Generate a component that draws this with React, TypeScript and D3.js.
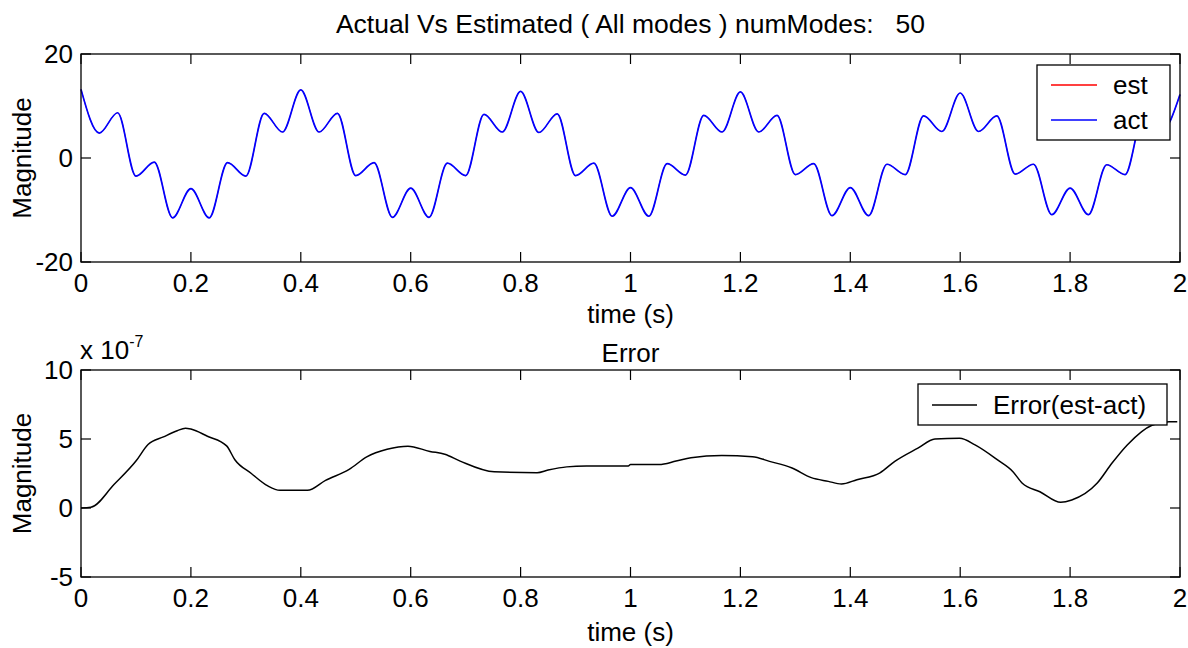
import React from 'react';
import * as d3 from 'd3';

// ---------- data ----------
const xTickValues = [0, 0.2, 0.4, 0.6, 0.8, 1, 1.2, 1.4, 1.6, 1.8, 2];
const topYTicks = [-20, 0, 20];
const bottomYTicks = [-5, 0, 5, 10];

const sampleStep = 1 / 30;
const actValues = [
  13.2, 4.8, 8.7, -3.5, -0.8, -11.5, -5.9, -11.5, -0.9, -3.5, 8.6, 5.0,
  13.1, 5.0, 8.6, -3.4, -0.9, -11.4, -5.8, -11.4, -1.0, -3.4, 8.4, 5.0,
  12.8, 4.9, 8.5, -3.4, -1.0, -11.2, -5.7, -11.2, -1.1, -3.3, 8.2, 5.0,
  12.7, 5.0, 8.2, -3.2, -1.1, -11.1, -5.7, -11.1, -1.2, -3.2, 8.1, 5.1,
  12.5, 5.1, 8.1, -3.1, -1.2, -10.9, -5.8, -10.9, -1.3, -3.2, 8.1, 5.2,
  12.2,
];
const estValues = actValues; // identical at plot scale

// error (x 1e-7)
const errTime = [
  0, 0.018, 0.06, 0.1, 0.122, 0.15, 0.175, 0.19, 0.2, 0.23, 0.265, 0.28, 0.31, 0.34,
  0.362, 0.412, 0.445, 0.488, 0.52, 0.557, 0.595, 0.635, 0.662, 0.69, 0.752, 0.83,
  0.85, 0.884, 0.92, 0.996, 1.0, 1.052, 1.083, 1.11, 1.166, 1.222, 1.253, 1.294,
  1.329, 1.36, 1.384, 1.412, 1.454, 1.481, 1.523, 1.554, 1.599, 1.627, 1.668, 1.696,
  1.713, 1.745, 1.783, 1.803, 1.849, 1.876, 1.904, 1.949, 1.98, 1.995,
];
const errValues = [
  0, 0.05, 1.7, 3.4, 4.6, 5.15, 5.6, 5.78, 5.72, 5.2, 4.5, 3.5, 2.5, 1.6,
  1.28, 1.28, 2.0, 2.8, 3.7, 4.25, 4.48, 4.1, 3.9, 3.4, 2.62, 2.56,
  2.75, 2.98, 3.04, 3.05, 3.15, 3.15, 3.4, 3.64, 3.8, 3.72, 3.38, 2.9,
  2.2, 1.93, 1.74, 2.05, 2.55, 3.38, 4.34, 5.0, 5.05, 4.57, 3.48, 2.63,
  1.79, 1.18, 0.41, 0.58, 1.79, 3.24, 4.57, 6.0, 6.25, 6.25,
];

const mainTitle = 'Actual Vs Estimated ( All modes ) numModes:   50';
const errTitle = 'Error';
const xLabel = 'time (s)';
const yLabel = 'Magnitude';
const legend1Labels = ['est', 'act'];
const legend2Label = 'Error(est-act)';

// ---------- layout ----------
const W = 1188;
const H = 648;
const LEFT = 81;
const RIGHT = 1180;
const TOP1 = 54, BOT1 = 262;
const TOP2 = 370, BOT2 = 577;
const FONT = "'Liberation Sans', Arial, Helvetica, sans-serif";
const FS = 26;
const TICK = 10;

const fmt = (v: number) => String(v);

function Axes({ x, y, yTicks, top, bottom }: any) {
  return (
    <g>
      <rect x={LEFT} y={top} width={RIGHT - LEFT} height={bottom - top} fill="#fff" stroke="none" />
      {xTickValues.map((t) => (
        <g key={'xt' + t}>
          <line x1={x(t)} x2={x(t)} y1={bottom} y2={bottom - TICK} stroke="#000" strokeWidth={1.2} />
          <line x1={x(t)} x2={x(t)} y1={top} y2={top + TICK} stroke="#000" strokeWidth={1.2} />
          <text x={x(t)} y={bottom + 30} textAnchor="middle" fontSize={FS} fontFamily={FONT} fill="#000">
            {fmt(t)}
          </text>
        </g>
      ))}
      {yTicks.map((v: number) => (
        <g key={'yt' + v}>
          <line x1={LEFT} x2={LEFT + TICK} y1={y(v)} y2={y(v)} stroke="#000" strokeWidth={1.2} />
          <line x1={RIGHT} x2={RIGHT - TICK} y1={y(v)} y2={y(v)} stroke="#000" strokeWidth={1.2} />
          <text x={LEFT - 8} y={y(v)} dy="0.35em" textAnchor="end" fontSize={FS} fontFamily={FONT} fill="#000">
            {fmt(v)}
          </text>
        </g>
      ))}
    </g>
  );
}

export default function App() {
  const x = d3.scaleLinear().domain([0, 2]).range([LEFT, RIGHT]);
  const y1 = d3.scaleLinear().domain([-20, 20]).range([BOT1, TOP1]);
  const y2 = d3.scaleLinear().domain([-5, 10]).range([BOT2, TOP2]);

  const sigLine = d3
    .line<number>()
    .x((_, i) => x(i * sampleStep))
    .y((v) => y1(v))
    .curve(d3.curveMonotoneX);

  const errLine = d3
    .line<number>()
    .x((_, i) => x(errTime[i]))
    .y((v) => y2(v))
    .curve(d3.curveMonotoneX);

  return (
    <svg width={W} height={H} style={{ position: 'absolute', left: 0, top: 0, background: '#fff' }}>
      <rect x={0} y={0} width={W} height={H} fill="#fff" />
      {/* top plot */}
      <Axes x={x} y={y1} yTicks={topYTicks} top={TOP1} bottom={BOT1} />
      <path d={sigLine(estValues) || ''} fill="none" stroke="#ff0000" strokeWidth={0.8} />
      <path d={sigLine(actValues) || ''} fill="none" stroke="#0000ff" strokeWidth={1.7} />
      <rect x={LEFT} y={TOP1} width={RIGHT - LEFT} height={BOT1 - TOP1} fill="none" stroke="#000" strokeWidth={1.3} />
      <text x={(LEFT + RIGHT) / 2} y={33} textAnchor="middle" fontSize={26.5} fontFamily={FONT} fill="#000" style={{ whiteSpace: 'pre' }}>
        {mainTitle}
      </text>
      <text x={(LEFT + RIGHT) / 2} y={323} textAnchor="middle" fontSize={FS} fontFamily={FONT} fill="#000">
        {xLabel}
      </text>
      <text transform={`translate(31,${(TOP1 + BOT1) / 2}) rotate(-90)`} textAnchor="middle" fontSize={FS} fontFamily={FONT} fill="#000">
        {yLabel}
      </text>
      {/* legend 1 */}
      <g>
        <rect x={1037} y={65} width={133} height={75} fill="#fff" stroke="#000" strokeWidth={1.3} />
        <line x1={1051} x2={1097} y1={85} y2={85} stroke="#ff0000" strokeWidth={1.5} />
        <line x1={1051} x2={1097} y1={120} y2={120} stroke="#0000ff" strokeWidth={1.5} />
        <text x={1113} y={85} dy="0.35em" fontSize={FS} fontFamily={FONT} fill="#000">{legend1Labels[0]}</text>
        <text x={1113} y={120} dy="0.35em" fontSize={FS} fontFamily={FONT} fill="#000">{legend1Labels[1]}</text>
      </g>

      {/* bottom plot */}
      <Axes x={x} y={y2} yTicks={bottomYTicks} top={TOP2} bottom={BOT2} />
      <path d={errLine(errValues) || ''} fill="none" stroke="#000" strokeWidth={1.5} />
      <rect x={LEFT} y={TOP2} width={RIGHT - LEFT} height={BOT2 - TOP2} fill="none" stroke="#000" strokeWidth={1.3} />
      <text x={(LEFT + RIGHT) / 2} y={362} textAnchor="middle" fontSize={FS} fontFamily={FONT} fill="#000">
        {errTitle}
      </text>
      <text x={80} y={359} fontSize={FS} fontFamily={FONT} fill="#000">
        x 10
        <tspan dy={-12} fontSize={16}>-7</tspan>
      </text>
      <text x={(LEFT + RIGHT) / 2} y={641} textAnchor="middle" fontSize={FS} fontFamily={FONT} fill="#000">
        {xLabel}
      </text>
      <text transform={`translate(31,${(TOP2 + BOT2) / 2}) rotate(-90)`} textAnchor="middle" fontSize={FS} fontFamily={FONT} fill="#000">
        {yLabel}
      </text>
      {/* legend 2 */}
      <g>
        <rect x={918} y={384} width={249} height={41} fill="#fff" stroke="#000" strokeWidth={1.3} />
        <line x1={932} x2={977} y1={405} y2={405} stroke="#000" strokeWidth={1.5} />
        <text x={993} y={405} dy="0.35em" fontSize={FS} fontFamily={FONT} fill="#000">{legend2Label}</text>
      </g>
    </svg>
  );
}
